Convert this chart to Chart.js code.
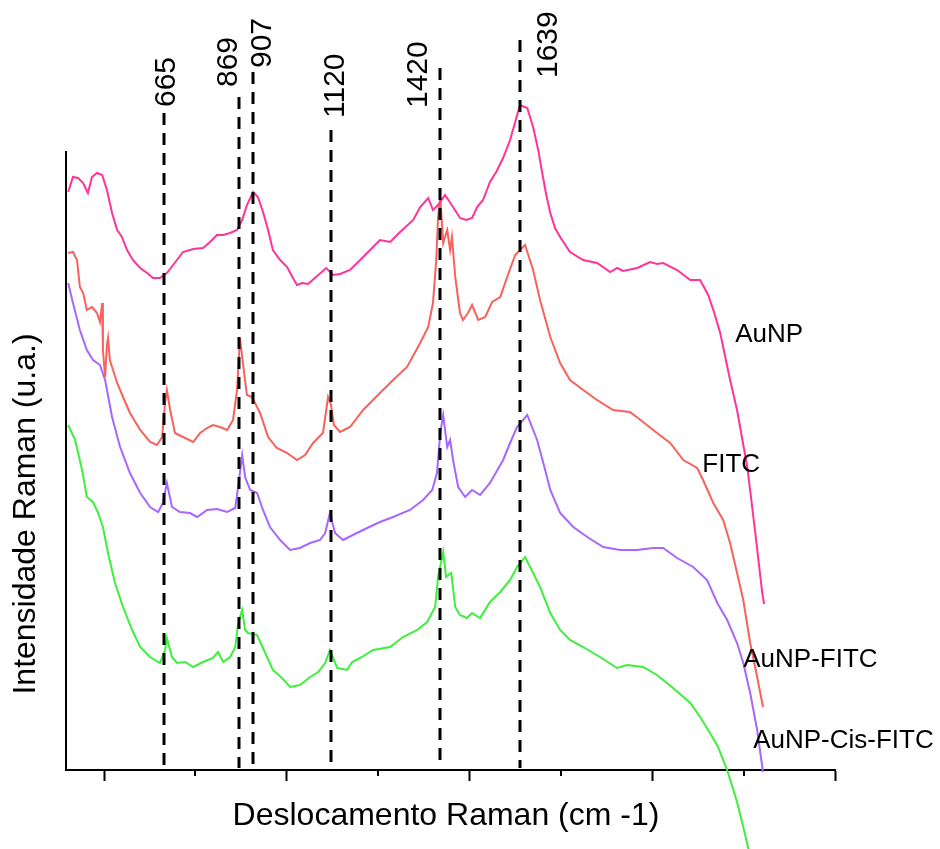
<!DOCTYPE html>
<html>
<head>
<meta charset="utf-8">
<script src="https://cdn.jsdelivr.net/npm/chart.js@4/dist/chart.umd.min.js"></script>
<style>
  html, body { margin: 0; padding: 0; background: #fff; }
  #wrap { width: 940px; height: 849px; }
</style>
</head>
<body>
<div id="wrap"><canvas id="ramanCanvas"></canvas></div>
<script>
// Raman shift (cm-1) and intensity (u.a.)
const aunpShift = [402,415,429,443,456,467,481,495,508,522,536,549,563,579,599,618,634,653,672,689,716,744,771,790,809,826,845,864,878,891,908,921,935,949,962,982,1001,1017,1028,1042,1058,1077,1108,1127,1146,1173,1201,1228,1255,1283,1310,1346,1365,1387,1400,1414,1433,1455,1474,1491,1507,1521,1537,1556,1573,1592,1611,1625,1638,1658,1674,1688,1699,1710,1721,1734,1748,1775,1811,1849,1885,1904,1920,1959,1994,2013,2030,2068,2104,2131,2153,2169,2186,2213,2232,2260,2282,2301,2306];
const aunpIntensity = [578,593,592,587,577,593,597,595,580,557,540,533,520,510,502,497,492,492,497,505,518,521,522,528,535,535,537,540,550,565,578,573,558,540,520,510,503,492,485,487,486,492,502,495,496,500,510,520,530,528,538,550,563,572,560,565,575,563,552,550,552,563,570,588,598,612,630,648,665,662,643,620,597,575,557,542,533,518,510,507,498,502,499,502,508,506,507,500,490,490,475,458,437,390,360,303,237,177,166];

const fitcShift = [402,415,426,434,443,453,467,481,489,495,497,503,508,511,516,522,536,552,571,599,626,645,659,667,672,681,694,716,744,763,782,798,817,837,853,864,872,880,891,905,927,949,973,1001,1028,1050,1072,1099,1108,1113,1121,1129,1146,1173,1209,1255,1291,1329,1365,1387,1400,1409,1414,1420,1428,1439,1447,1452,1461,1474,1482,1496,1507,1524,1543,1562,1584,1603,1625,1638,1652,1674,1693,1721,1748,1775,1811,1849,1893,1939,1975,2013,2049,2085,2123,2139,2167,2194,2213,2232,2249,2268,2287,2303];
const fitcIntensity = [517,518,510,483,477,460,463,457,448,467,420,393,425,432,410,403,387,373,357,340,328,325,333,367,380,360,337,333,328,337,342,345,343,340,350,380,432,407,375,373,357,333,322,317,310,315,327,337,360,373,365,345,338,343,360,377,390,403,427,443,467,510,553,573,527,540,520,533,493,457,450,457,465,450,453,468,473,493,515,520,525,500,470,433,407,390,380,370,360,358,348,337,327,310,302,290,267,250,227,197,170,127,93,63];

const aunpFitcShift = [402,415,434,453,470,489,503,522,544,571,599,626,648,661,672,686,708,735,755,782,809,837,859,867,878,886,900,919,935,954,982,1009,1036,1064,1091,1105,1118,1132,1154,1181,1220,1255,1291,1337,1373,1398,1411,1420,1428,1439,1447,1455,1469,1488,1507,1529,1556,1592,1611,1630,1658,1685,1707,1721,1748,1784,1822,1866,1912,1959,2002,2030,2068,2112,2150,2178,2205,2232,2249,2268,2287,2303];
const aunpFitcIntensity = [487,467,440,420,410,405,390,353,323,297,277,263,258,267,287,263,258,257,253,260,261,258,262,283,315,293,280,277,260,243,230,220,222,227,230,237,257,237,230,235,242,248,253,260,270,280,297,337,355,323,330,310,283,273,280,275,287,310,327,343,355,330,300,280,257,243,233,223,220,220,222,222,212,203,190,167,150,127,107,77,40,-2];

const aunpCisFitcShift = [402,421,440,453,470,484,497,511,530,552,577,599,626,653,667,672,686,700,722,744,771,798,812,826,845,859,867,878,886,894,919,941,962,987,1009,1036,1064,1086,1105,1118,1138,1165,1179,1206,1236,1283,1318,1357,1384,1406,1414,1428,1436,1450,1461,1474,1493,1507,1529,1556,1584,1611,1630,1652,1674,1693,1721,1748,1775,1811,1857,1904,1931,1975,2013,2057,2104,2131,2158,2180,2205,2232,2249,2265];
const aunpCisFitcIntensity = [345,330,300,273,268,257,243,217,187,163,140,123,113,107,120,132,113,107,108,103,108,112,118,108,113,123,147,160,140,137,135,117,100,92,83,85,93,98,107,120,102,100,108,113,120,123,133,140,148,163,193,218,193,197,163,155,152,157,152,168,178,190,203,213,197,183,157,140,130,123,113,102,105,103,95,82,67,53,37,23,0,-32,-57,-82];

const seriesNames = ['AuNP', 'FITC', 'AuNP-FITC', 'AuNP-Cis-FITC'];
const peakShifts = [665, 869, 907, 1120, 1420, 1639];
const peakLabels = ['665', '869', '907', '1120', '1420', '1639'];
const majorTicks = [500, 1000, 1500, 2000, 2500];
const minorTicks = [750, 1250, 1750, 2250];

// drawing layout (pixels / axis units), kept apart from the data
const colors = ['#ff3399', '#f8615c', '#a966ff', '#3cf03c'];
const peakLineTop = [657, 673, 698, 640, 702, 730];   // y-units where the dashed line starts
const peakLabelStart = [663, 683, 702, 652, 662, 692];
const peakLabelDx = [11, -2, 18, 13, -13, 37];
const seriesLabelAt = [[2227, 428], [2137, 298], [2249, 103], [2276, 22]];

function zip(xs, ys) {
    return xs.map((x, i) => ({ x: x, y: ys[i] }));
}

const FONT = '"Liberation Sans", Arial, sans-serif';

const overlay = {
    id: 'overlay',
    afterDatasetsDraw(chart) {
        const ctx = chart.ctx;
        const xs = chart.scales.x;
        const ys = chart.scales.y;
        const area = chart.chartArea;
        ctx.save();

        // dashed peak markers
        ctx.strokeStyle = '#000';
        ctx.lineWidth = 3;
        ctx.setLineDash([12, 8]);
        peakShifts.forEach((v, i) => {
            const px = Math.round(xs.getPixelForValue(v));
            ctx.beginPath();
            ctx.moveTo(px, ys.getPixelForValue(peakLineTop[i]));
            ctx.lineTo(px, area.bottom - 2);
            ctx.stroke();
        });
        ctx.setLineDash([]);

        // peak labels, rotated
        ctx.fillStyle = '#000';
        ctx.font = '30px ' + FONT;
        ctx.textBaseline = 'alphabetic';
        ctx.textAlign = 'left';
        peakShifts.forEach((v, i) => {
            const px = xs.getPixelForValue(v) + peakLabelDx[i];
            ctx.save();
            ctx.translate(px, ys.getPixelForValue(peakLabelStart[i]));
            ctx.rotate(-Math.PI / 2);
            ctx.fillText(peakLabels[i], 0, 0);
            ctx.restore();
        });

        // curve names
        ctx.font = '26px ' + FONT;
        seriesNames.forEach((name, i) => {
            ctx.fillText(name, xs.getPixelForValue(seriesLabelAt[i][0]), ys.getPixelForValue(seriesLabelAt[i][1]));
        });

        // minor ticks
        ctx.lineWidth = 2;
        minorTicks.forEach(v => {
            const px = Math.round(xs.getPixelForValue(v));
            ctx.beginPath();
            ctx.moveTo(px, area.bottom);
            ctx.lineTo(px, area.bottom + 6);
            ctx.stroke();
        });

        // axis titles
        ctx.font = '32px ' + FONT;
        ctx.textAlign = 'center';
        ctx.fillText('Deslocamento Raman (cm -1)', 446, 825);
        ctx.save();
        ctx.translate(35, 514);
        ctx.rotate(-Math.PI / 2);
        ctx.fillText('Intensidade Raman (u.a.)', 0, 0);
        ctx.restore();

        ctx.restore();
    }
};

const ramanCanvas = document.getElementById('ramanCanvas');

const ramanChart = new Chart(ramanCanvas, {
    type: 'line',
    data: {
        datasets: [
            { label: seriesNames[0], data: zip(aunpShift, aunpIntensity), borderColor: colors[0] },
            { label: seriesNames[1], data: zip(fitcShift, fitcIntensity), borderColor: colors[1] },
            { label: seriesNames[2], data: zip(aunpFitcShift, aunpFitcIntensity), borderColor: colors[2] },
            { label: seriesNames[3], data: zip(aunpCisFitcShift, aunpCisFitcIntensity), borderColor: colors[3] }
        ].map(d => Object.assign(d, { clip: false, borderWidth: 2, pointRadius: 0, tension: 0, fill: false }))
    },
    options: {
        responsive: true,
        maintainAspectRatio: false,
        animation: false,
        layout: { padding: { top: 152, right: 105, left: 0, bottom: 0 } },
        plugins: {
            legend: { display: false },
            tooltip: { enabled: false }
        },
        scales: {
            x: {
                type: 'linear',
                min: 396,
                max: 2500,
                afterFit(scale) { scale.height = 79; },
                afterBuildTicks(scale) { scale.ticks = majorTicks.map(v => ({ value: v })); },
                ticks: { display: false },
                grid: { drawOnChartArea: false, drawTicks: true, tickLength: 11, tickWidth: 2, tickColor: '#000' },
                border: { color: '#000', width: 2 }
            },
            y: {
                min: 0,
                max: 618,
                afterFit(scale) { scale.width = 66; },
                ticks: { display: false },
                grid: { display: false },
                border: { color: '#000', width: 2 }
            }
        }
    },
    plugins: [overlay]
});
</script>
</body>
</html>
